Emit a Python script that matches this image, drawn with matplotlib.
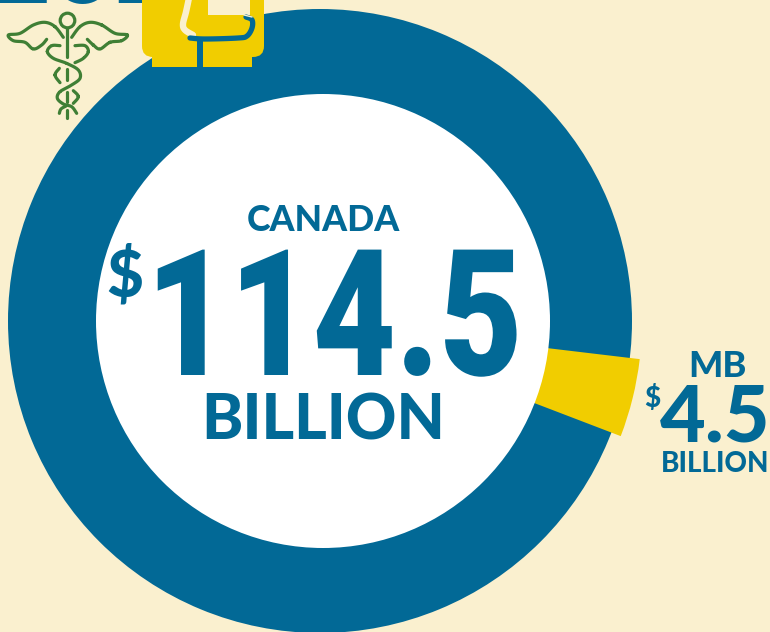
import matplotlib
matplotlib.use("Agg")
import numpy as np
from matplotlib import pyplot as plt
from matplotlib.patches import Wedge, Circle, PathPatch, FancyBboxPatch, Rectangle
from matplotlib.path import Path
from matplotlib.patheffects import AbstractPathEffect
from matplotlib.transforms import Affine2D

# values in billions
canada_total = 114.5
manitoba = 4.5
# where the MB slice ends, degrees counter-clockwise from east
slice_end = -6.8

BG = "#FAF0CF"
BLUE = "#026996"
YELLOW = "#F1CD00"
GREEN = "#3F7F35"
FONT = "Lato"

fig = plt.figure(figsize=(7.7, 6.32), dpi=100, facecolor=BG)
ax = fig.add_axes([0, 0, 1, 1])
ax.set_xlim(0, 770)
ax.set_ylim(632, 0)
ax.axis("off")


class Squeeze(AbstractPathEffect):
    """Narrows glyphs horizontally, since no installed font is this condensed."""
    def __init__(self, factor):
        super().__init__()
        self.factor = factor

    def draw_path(self, renderer, gc, tpath, affine, rgbFace=None):
        renderer.draw_path(gc, tpath, Affine2D().scale(self.factor, 1) + affine, rgbFace)


# y axis is flipped, so wedge angles are negated
center = (320, 321)
sweep = 360 * manitoba / canada_total
ax.add_patch(Wedge(center, 312, 0, 360, color=BLUE, lw=0))
ax.add_patch(Wedge(center, 322, -slice_end, -slice_end + sweep, width=110, color=YELLOW, lw=0, zorder=2))
ax.add_patch(Circle((323, 321), 227, color="white", lw=0, zorder=3))


def label(x, y, s, size, ha="center", **kw):
    kw.setdefault("family", FONT)
    kw.setdefault("weight", "black")
    return ax.text(x, y, s, fontsize=size, color=BLUE, ha=ha, va="baseline", zorder=5, **kw)


label(323, 231, "CANADA", 25.7)
label(146, 375, f"{canada_total}", 127, ha="left", family="Roboto", weight="black",
      path_effects=[Squeeze(0.815)])
label(125, 297, "$", 46)
label(323, 440, "BILLION", 45)
label(717, 377, "MB", 26)
label(715, 441, f"{manitoba}", 57)
label(652, 407, "$", 20)
label(715, 472, "BILLION", 20)

# bottom of the cropped heading at the top of the page
label(83, 3, "202", 80)

# chair icon, cut off by the top edge
ax.add_patch(FancyBboxPatch((142, -30), 122, 87, boxstyle="round,pad=0,rounding_size=11",
                            fc=YELLOW, lw=0, zorder=6))
ax.add_patch(Rectangle((152, 50), 45, 17, fc=YELLOW, lw=0, zorder=6))
ax.add_patch(Rectangle((203, 50), 49, 17, fc=YELLOW, lw=0, zorder=6))
ax.add_patch(Rectangle((197, 38), 6, 29, fc=BLUE, lw=0, zorder=7))
ax.add_patch(Rectangle((208, -1), 42, 16, fc=BG, lw=0, zorder=7))


def smooth(points):
    """Catmull-Rom curve through the given outline points."""
    pts = np.array(points, dtype=float)
    pts = np.vstack([pts[0], pts, pts[-1]])
    out = []
    for i in range(1, len(pts) - 2):
        p0, p1, p2, p3 = pts[i - 1], pts[i], pts[i + 1], pts[i + 2]
        for t in np.linspace(0, 1, 12):
            out.append(0.5 * (2 * p1 + (p2 - p0) * t + (2 * p0 - 5 * p1 + 4 * p2 - p3) * t ** 2
                              + (3 * p1 - p0 - 3 * p2 + p3) * t ** 3))
    return Path(np.array(out))


def stroke(points, color=GREEN, lw=2.3, zorder=6):
    ax.add_patch(PathPatch(smooth(points), fc="none", ec=color, lw=lw,
                           capstyle="round", joinstyle="round", zorder=zorder))


stroke([(189, -2), (186, 12), (183, 24), (185, 30), (193, 35)], color=BG, lw=4.6, zorder=7)
stroke([(246, 17), (252, 20), (252, 28), (247, 36), (238, 38), (205, 39), (190, 38)],
       color=BLUE, lw=3.8, zorder=7)
stroke([(244, 15), (252, 17)], color=BG, lw=1, zorder=7)

# caduceus icon, outline points in 3x crop coordinates
def stroke3(points):
    stroke([(x / 3, y / 3) for x, y in points])


ax.add_patch(Circle((67.5, 20.5), 7.3, fc="none", ec=GREEN, lw=2.3, zorder=6))
stroke3([(202, 85), (202, 172)])
stroke3([(202, 208), (202, 240)])
stroke3([(202, 276), (202, 306)])
stroke3([(202, 330), (202, 355)])
stroke3([(190, 112), (165, 80), (135, 67), (100, 75), (60, 100), (25, 105),
         (40, 122), (75, 127), (100, 147), (125, 135), (140, 118)])
stroke3([(215, 112), (240, 80), (270, 67), (305, 75), (345, 100), (382, 105),
         (365, 122), (330, 127), (300, 147), (280, 135), (262, 118)])
stroke3([(180, 137), (155, 137), (142, 155), (160, 175), (200, 190), (235, 210),
         (240, 235), (215, 255), (180, 275), (172, 295), (190, 312), (215, 320), (230, 340)])
stroke3([(225, 137), (255, 137), (265, 155), (250, 175), (225, 188)])
stroke3([(178, 205), (165, 225), (180, 248)])
stroke3([(220, 272), (235, 290), (220, 310)])
stroke3([(178, 340), (183, 327), (198, 318)])

fig.savefig("out.png", dpi=100, facecolor=BG)
